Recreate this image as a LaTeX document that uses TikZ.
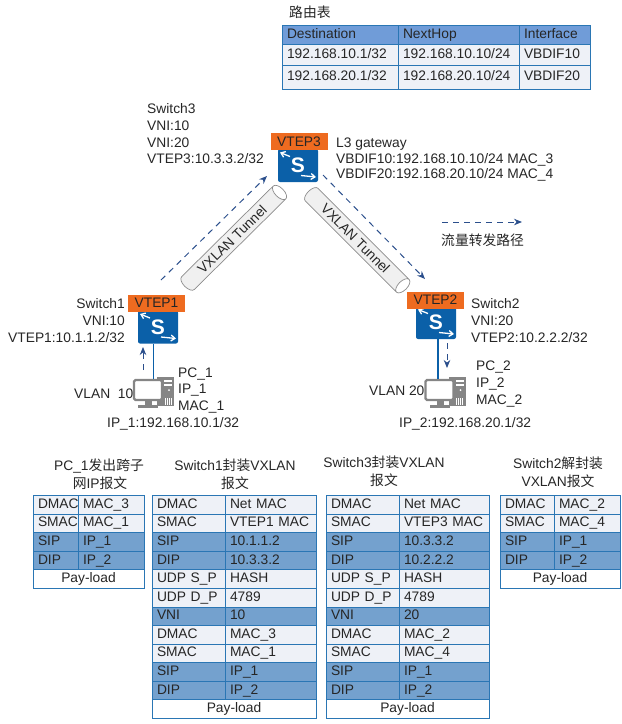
\documentclass[tikz,border=0pt]{standalone}
\usepackage{fontspec}
\setmainfont{Liberation Sans}
\newfontfamily\cjk{Noto Sans CJK SC}
\usetikzlibrary{shapes.geometric,arrows.meta}
\definecolor{cellline}{HTML}{2A76B4}
\definecolor{celllight}{HTML}{EEF1F7}
\definecolor{celldark}{HTML}{74A1CE}
\definecolor{headfill}{HTML}{709CD8}
\definecolor{swblue}{HTML}{0B60A8}
\definecolor{vtepfill}{HTML}{EE6B20}
\definecolor{flowblue}{HTML}{2B4F8C}
\definecolor{pcgray}{HTML}{858585}
\definecolor{inktext}{HTML}{262626}
\tikzset{
  every node/.style={font=\fontsize{13.8}{16}\selectfont,text=inktext},
  lbl/.style={anchor=base west,inner sep=0pt},
  lblr/.style={anchor=base east,inner sep=0pt},
  lblc/.style={anchor=base,inner sep=0pt},
  pktcell/.style={draw=cellline,line width=0.9pt,anchor=north west,inner xsep=5pt,inner ysep=0pt,
    outer sep=0pt,align=left,text height=9.5pt,text depth=2.5pt},
  pktlight/.style={pktcell,fill=celllight},
  pktdark/.style={pktcell,fill=celldark},
  pktfull/.style={pktcell,fill=white,align=center,inner xsep=0pt},
  headcell/.style={pktcell,fill=headfill},
  swbox/.style={fill=swblue,rounded corners=2pt,minimum width=40pt,minimum height=33pt,inner sep=0pt,
    text=white,font=\fontsize{21}{21}\selectfont\bfseries},
  vtepbox/.style={fill=vtepfill,minimum width=57pt,minimum height=17pt,inner sep=0pt},
  tunnel/.style={cylinder,draw=black!45,line width=0.7pt,cylinder uses custom fill,cylinder body fill=black!6,
    cylinder end fill=white,shape aspect=0.9,minimum height=138pt,minimum width=18pt,inner sep=0pt},
  link/.style={draw=swblue,line width=1.8pt},
  flow/.style={draw=flowblue,line width=1pt,dash pattern=on 6pt off 5pt,-{Stealth[length=8pt,width=6.5pt]}},
  swarrow/.style={white,line width=1.3pt,-{Straight Barb[length=4pt,width=6pt]}},
  pcscreen/.style={draw=pcgray,fill=white,line width=2.2pt,rounded corners=1.5pt,minimum width=28pt,
    minimum height=20pt,inner sep=0pt}
}
% #1 name, #2 left, #3 split, #4 right, #5 rows, #6 row index of the pay-load
\newcommand{\pkttable}[6]{
  \foreach \kind/\ltext/\rtext [count=\i from 0] in {#5} {
    \node[\kind,minimum height=18.58pt,text width={(#3-#2-10)*1pt}] (#1l\i) at (#2,{495.5+\i*18.58}) {\ltext};
    \node[\kind,minimum height=18.58pt,text width={(#4-#3-10)*1pt}] (#1r\i) at (#3,{495.5+\i*18.58}) {\rtext};
  }
  \node[pktfull,minimum height=18.58pt,text width={(#4-#2)*1pt}] (#1pay) at (#2,{495.5+#6*18.58}) {Pay-load};
}
\newcommand{\swarrows}[1]{
  \draw[swarrow] ([shift={(-8,-9)}]#1.center) -- ([shift={(-18,-13)}]#1.center);
  \draw[swarrow] ([shift={(3,10)}]#1.center) -- ([shift={(18,11.5)}]#1.center);
}
\newcommand{\pctower}[1]{
  \fill[pcgray] ([shift={(9,-13)}]#1) rectangle ([shift={(26,16)}]#1);
  \fill[white] ([shift={(16,-10)}]#1) rectangle ([shift={(24,-8.5)}]#1);
  \fill[white] ([shift={(16,-6)}]#1) rectangle ([shift={(24,-4.5)}]#1);
  \fill[white] ([shift={(21,0)}]#1) circle (1pt);
  \foreach \dx in {17,19,21,23}
    \draw[white,line width=0.5pt] ([shift={(\dx,8)}]#1) -- ([shift={(\dx,15)}]#1);
  \fill[pcgray] ([shift={(-3,11)}]#1) rectangle ([shift={(4,15)}]#1);
  \fill[pcgray] ([shift={(-10,15)}]#1) rectangle ([shift={(10,17.5)}]#1);
}
\begin{document}
\begin{tikzpicture}[x=1pt,y=-1pt]
  \useasboundingbox (0,0) rectangle (622,724);
  % routing table
  \node[lbl] (rttitle) at (289,17) {\cjk 路由表};
  \foreach \nm/\xa/\colw/\ta/\tb/\tc in {
      a/282/116/Destination/192.168.10.1\slash 32/192.168.20.1\slash 32,
      b/398/121/NextHop/192.168.10.10\slash 24/192.168.20.10\slash 24,
      c/519/71/Interface/VBDIF10/VBDIF20} {
    \node[headcell,minimum height=19pt,text width={(\colw-10)*1pt}] (rt\nm0) at (\xa,25) {\ta};
    \node[pktlight,minimum height=21pt,text width={(\colw-10)*1pt}] (rt\nm1) at (\xa,44) {\tb};
    \node[pktlight,minimum height=24pt,text width={(\colw-10)*1pt}] (rt\nm2) at (\xa,65) {\tc};
  }
  % tunnels
  \node[tunnel,rotate=44.7] (tunnela) at (232,239.5) {VXLAN Tunnel};
  \node[tunnel,rotate=-45] (tunnelb) at (355.5,238.5) {VXLAN Tunnel};
  % switches
  \node[swbox] (sw3) at (298,165.5) {S};
  \node[swbox] (sw1) at (158,327) {S};
  \node[swbox] (sw2) at (436,322.5) {S};
  \swarrows{sw1}
  \swarrows{sw2}
  \swarrows{sw3}
  \node[vtepbox] (vtep3) at (299,141.5) {VTEP3};
  \node[vtepbox] (vtep1) at (156.5,303) {VTEP1};
  \node[vtepbox] (vtep2) at (435.5,300) {VTEP2};
  % hosts
  \coordinate (pc1c) at (148,390);
  \coordinate (pc2c) at (439.5,390);
  \pctower{pc1c}
  \pctower{pc2c}
  \node[pcscreen] (pc1) at (pc1c) {};
  \node[pcscreen] (pc2) at (pc2c) {};
  \draw[link] ([xshift=-4.5pt]sw1.south) -- ([xshift=-4.5pt]sw1.south |- pc1.north);
  \draw[link] ([xshift=1.7pt]sw2.south) -- ([xshift=1.7pt]sw2.south |- pc2.north);
  % traffic path
  \coordinate (fa0) at (143,370);
  \coordinate (fa1) at (143,347);
  \coordinate (fb0) at (161,280);
  \coordinate (fb1) at (267,176);
  \coordinate (fc0) at (323,175);
  \coordinate (fc1) at (425,279);
  \coordinate (fd0) at (447,343);
  \coordinate (fd1) at (447,368);
  \coordinate (fe0) at (442,222);
  \coordinate (fe1) at (522,222);
  \draw[flow] (fa0) -- (fa1);
  \draw[flow] (fb0) -- (fb1);
  \draw[flow] (fc0) -- (fc1);
  \draw[flow] (fd0) -- (fd1);
  \draw[flow] (fe0) -- (fe1);
  \node[lbl] (flowtxt) at (441,245) {\cjk 流量转发路径};
  % labels
  \node[lbl] (s3a) at (147,113) {Switch3};
  \node[lbl] (s3b) at (147,130) {VNI:10};
  \node[lbl] (s3c) at (147,147) {VNI:20};
  \node[lbl] (s3d) at (147,163) {VTEP3:10.3.3.2/32};
  \node[lbl] (gwa) at (336,147) {L3 gateway};
  \node[lbl] (gwb) at (336,163) {VBDIF10:192.168.10.10/24 MAC\_3};
  \node[lbl] (gwc) at (336,178) {VBDIF20:192.168.20.10/24 MAC\_4};
  \node[lblr] (s1a) at (125,308) {Switch1};
  \node[lblr] (s1b) at (125,325) {VNI:10};
  \node[lblr] (s1c) at (125,342) {VTEP1:10.1.1.2/32};
  \node[lbl] (s2a) at (471,308) {Switch2};
  \node[lbl] (s2b) at (471,325) {VNI:20};
  \node[lbl] (s2c) at (471,342) {VTEP2:10.2.2.2/32};
  \node[lbl] (p1a) at (178,377) {PC\_1};
  \node[lbl] (p1b) at (178,393) {IP\_1};
  \node[lbl] (p1c) at (178,410) {MAC\_1};
  \node[lbl] (p1d) at (107,427) {IP\_1:192.168.10.1/32};
  \node[lbl] (vl10) at (74,398) {VLAN\ \ 10};
  \node[lbl] (p2a) at (476,370) {PC\_2};
  \node[lbl] (p2b) at (476,387) {IP\_2};
  \node[lbl] (p2c) at (476,404) {MAC\_2};
  \node[lbl] (p2d) at (399,427) {IP\_2:192.168.20.1/32};
  \node[lbl] (vl20) at (369,395) {VLAN 20};
  % packet titles
  \node[lblc] (ta1) at (99,470) {PC\_1{\cjk 发出跨子}};
  \node[lblc] (ta2) at (100,488) {{\cjk 网}IP{\cjk 报文}};
  \node[lblc] (tb1) at (235,470) {Switch1{\cjk 封装}VXLAN};
  \node[lblc] (tb2) at (235,488) {\cjk 报文};
  \node[lblc] (tc1) at (384,467) {Switch3{\cjk 封装}VXLAN};
  \node[lblc] (tc2) at (384,485) {\cjk 报文};
  \node[lblc] (td1) at (558,468) {Switch2{\cjk 解封装}};
  \node[lblc] (td2) at (558,486) {VXLAN{\cjk 报文}};
  % packets
  \pkttable{pa}{33}{78}{144}{pktlight/DMAC/MAC\_3,pktlight/SMAC/MAC\_1,pktdark/SIP/IP\_1,pktdark/DIP/IP\_2}{4}
  \pkttable{pb}{152}{225}{316}{pktlight/DMAC/Net MAC,pktlight/SMAC/VTEP1 MAC,pktdark/SIP/10.1.1.2,
    pktdark/DIP/10.3.3.2,pktlight/UDP S\_P/HASH,pktlight/UDP D\_P/4789,pktdark/VNI/10,
    pktlight/DMAC/MAC\_3,pktlight/SMAC/MAC\_1,pktdark/SIP/IP\_1,pktdark/DIP/IP\_2}{11}
  \pkttable{pc}{326}{399}{489}{pktlight/DMAC/Net MAC,pktlight/SMAC/VTEP3 MAC,pktdark/SIP/10.3.3.2,
    pktdark/DIP/10.2.2.2,pktlight/UDP S\_P/HASH,pktlight/UDP D\_P/4789,pktdark/VNI/20,
    pktlight/DMAC/MAC\_2,pktlight/SMAC/MAC\_4,pktdark/SIP/IP\_1,pktdark/DIP/IP\_2}{11}
  \pkttable{pd}{500}{554}{620}{pktlight/DMAC/MAC\_2,pktlight/SMAC/MAC\_4,pktdark/SIP/IP\_1,pktdark/DIP/IP\_2}{4}
\end{tikzpicture}
\end{document}
